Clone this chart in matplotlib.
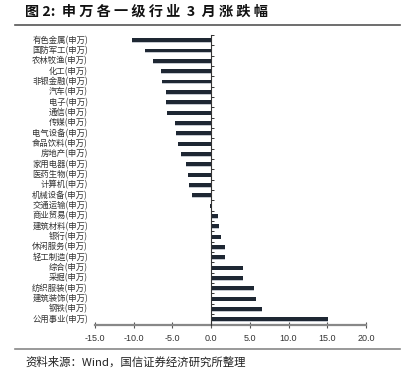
import matplotlib
matplotlib.use("Agg")
import matplotlib.pyplot as plt
from matplotlib.lines import Line2D
import matplotlib.transforms as mtransforms

plt.rcParams['font.family'] = ['Noto Sans CJK SC', 'DejaVu Sans']

categories = ["有色金属(申万)", "国防军工(申万)", "农林牧渔(申万)", "化工(申万)", "非银金融(申万)",
              "汽车(申万)", "电子(申万)", "通信(申万)", "传媒(申万)", "电气设备(申万)",
              "食品饮料(申万)", "房地产(申万)", "家用电器(申万)", "医药生物(申万)", "计算机(申万)",
              "机械设备(申万)", "交通运输(申万)", "商业贸易(申万)", "建筑材料(申万)", "银行(申万)",
              "休闲服务(申万)", "轻工制造(申万)", "综合(申万)", "采掘(申万)", "纺织服装(申万)",
              "建筑装饰(申万)", "钢铁(申万)", "公用事业(申万)"]
values = [-10.2, -8.6, -7.5, -6.45, -6.4, -5.85, -5.8, -5.7, -4.65, -4.6,
          -4.3, -3.9, -3.3, -3.0, -2.8, -2.5, -0.1, 0.95, 1.0, 1.25,
          1.75, 1.85, 4.1, 4.15, 5.5, 5.85, 6.6, 15.05]
xticks = [-15.0, -10.0, -5.0, 0.0, 5.0, 10.0, 15.0, 20.0]

title = "图 2:  申 万 各 一 级 行 业  3  月 涨 跌 幅"
source = "资料来源：Wind，国信证券经济研究所整理"

W, H = 405, 383
fig = plt.figure(figsize=(W / 100, H / 100), dpi=100)
fig.patch.set_facecolor('white')

ax = fig.add_axes([95 / W, (H - 324.5) / H, 271 / W, 289.5 / H])
n = len(categories)
ypos = list(range(n))

# shadow
ax.barh([y + 0.08 for y in ypos], values, height=0.38, color='#c4c8cf', zorder=1)
ax.barh(ypos, values, height=0.38, color='#1e2733', zorder=2)

ax.set_xlim(-15, 20)
ax.set_ylim(n - 0.5, -0.5)
ax.set_xticks(xticks)
ax.set_xticklabels([f"{t:.1f}" for t in xticks], fontsize=6.5, color='#333333',
                   family=['Liberation Sans', 'DejaVu Sans'])
ax.tick_params(axis='x', direction='inout', length=4, width=0.8, color='#555555', pad=5)

ax.spines['left'].set_position(('data', 0))
ax.spines['left'].set_color('#333333')
ax.spines['left'].set_linewidth(0.8)
ax.spines['left'].set_zorder(3)
ax.spines['bottom'].set_color('#888888')
ax.spines['bottom'].set_linewidth(1.6)
ax.spines['top'].set_visible(False)
ax.spines['right'].set_visible(False)

ax.set_yticks([y - 0.5 for y in range(n + 1)])
ax.set_yticklabels([])
ax.tick_params(axis='y', direction='in', length=2.5, width=0.7, color='#333333')

trans = mtransforms.blended_transform_factory(ax.transAxes, ax.transData)
for y, lab in zip(ypos, categories):
    ax.text(-0.026, y, lab, transform=trans, ha='right', va='center',
            fontsize=6.0, color='#333333')

fig.text(25 / W, 1 - 12 / H, title, fontsize=10.2, fontweight='bold', ha='left', va='center',
         color='#111111')
fig.add_artist(Line2D([15 / W, 400 / W], [1 - 25 / H, 1 - 25 / H], color='#555555', lw=1.2))
fig.add_artist(Line2D([15 / W, 400 / W], [1 - 349 / H, 1 - 349 / H], color='#888888', lw=1.2))
fig.text(25 / W, 1 - 362 / H, source, fontsize=8.2, ha='left', va='center', color='#222222')

fig.savefig("out.png", dpi=100, facecolor='white')
